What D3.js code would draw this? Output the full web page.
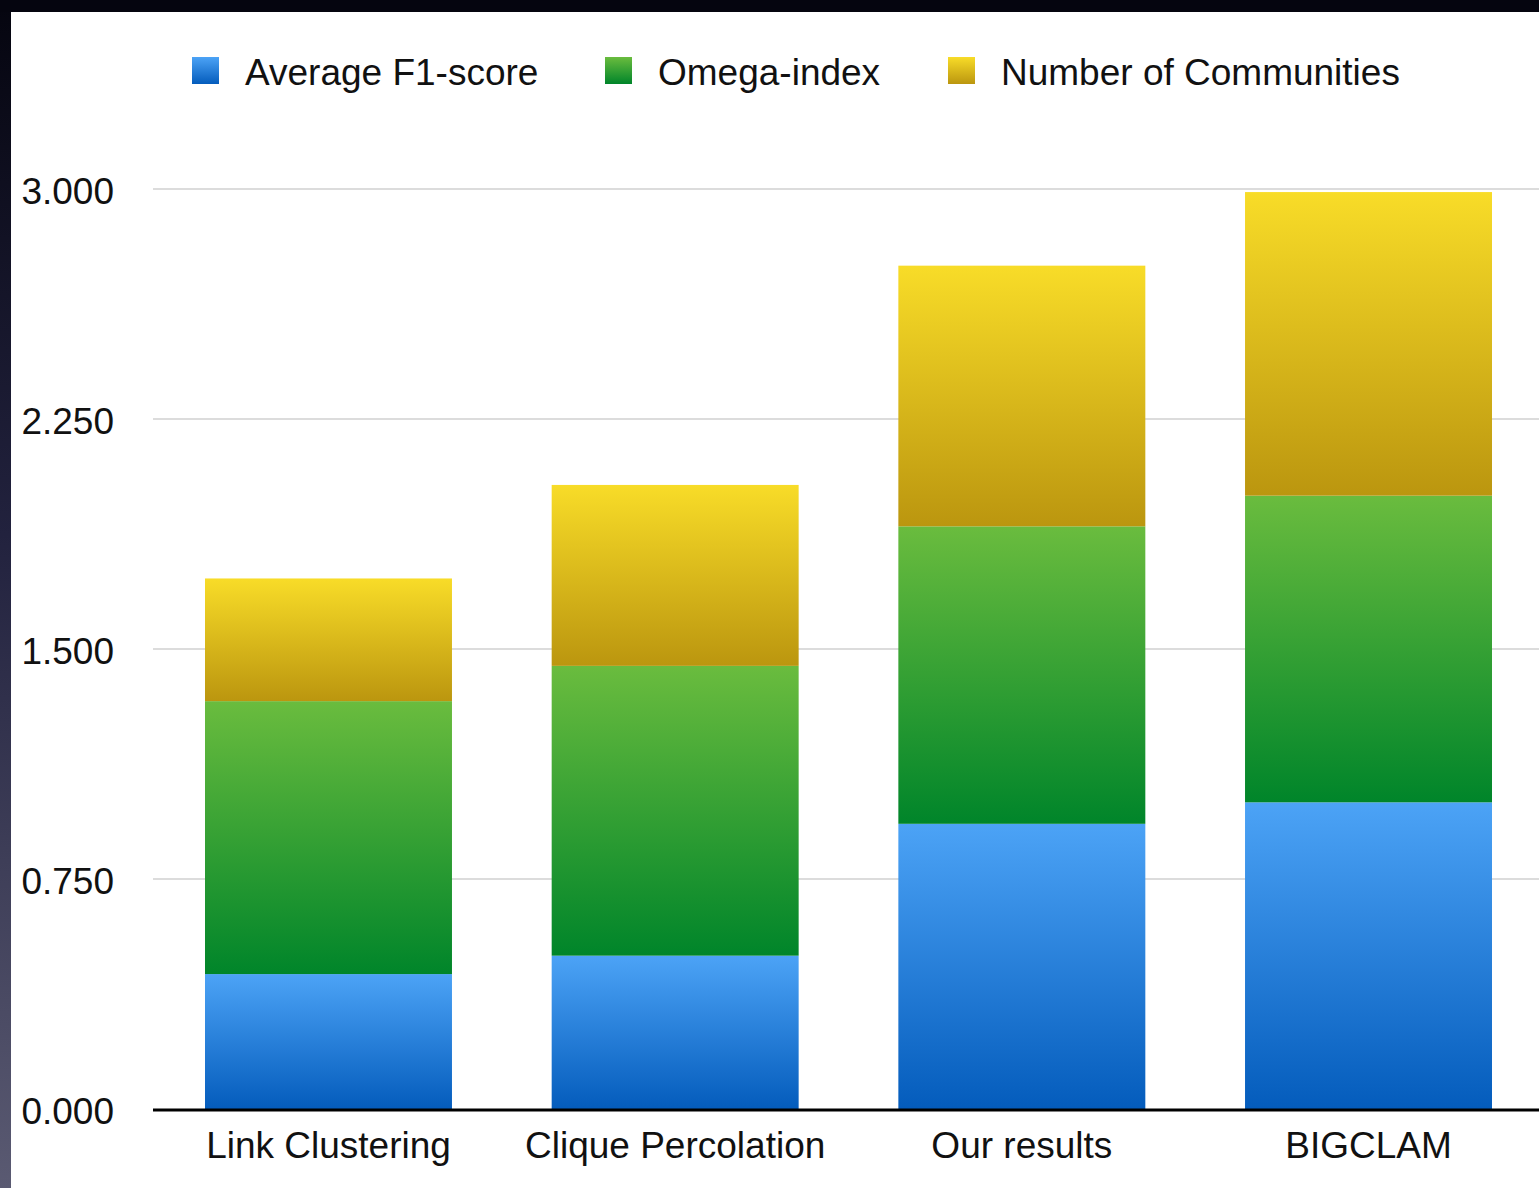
<!DOCTYPE html>
<html>
<head>
<meta charset="utf-8">
<script src="https://cdn.jsdelivr.net/npm/d3@7"></script>
<style>
  html, body { margin: 0; padding: 0; background: #05060f; }
  svg { display: block; }
  text { font-family: "Liberation Sans", Arial, Helvetica, sans-serif; fill: #111; }
</style>
</head>
<body>
<svg id="chart" width="1539" height="1188"></svg>
<script>
// Community detection comparison: stacked scores per method
const categories = ["Link Clustering", "Clique Percolation", "Our results", "BIGCLAM"];
const seriesNames = ["Average F1-score", "Omega-index", "Number of Communities"];
const f1Score = [0.44, 0.50, 0.93, 1.00];
const omegaIndex = [0.89, 0.945, 0.97, 1.00];
const numCommunities = [0.40, 0.59, 0.85, 0.99];
const tickValues = [0, 0.75, 1.5, 2.25, 3.0];
const tickLabels = ["0.000", "0.750", "1.500", "2.250", "3.000"];

// top / bottom gradient stops per series
const seriesColors = [
  ["#4ca3f6", "#045cbc"],
  ["#6abc3e", "#00852a"],
  ["#f8dc28", "#bb960f"]
];

const W = 1539, H = 1188;
const svg = d3.select("#chart");
const defs = svg.append("defs");

// dark frame with a vertical gradient on the left edge
const frameGrad = defs.append("linearGradient").attr("id", "frame")
  .attr("x1", 0).attr("y1", 0).attr("x2", 0).attr("y2", 1);
frameGrad.append("stop").attr("offset", 0).attr("stop-color", "#05050f");
frameGrad.append("stop").attr("offset", 0.45).attr("stop-color", "#22223e");
frameGrad.append("stop").attr("offset", 1).attr("stop-color", "#5a5a72");
svg.append("rect").attr("x", 0).attr("y", 0).attr("width", W).attr("height", H).attr("fill", "url(#frame)");
svg.append("rect").attr("x", 0).attr("y", 0).attr("width", W).attr("height", 12).attr("fill", "#05050f");
svg.append("rect").attr("x", 11).attr("y", 12).attr("width", W - 11).attr("height", H - 12).attr("fill", "#ffffff");

seriesColors.forEach((c, i) => {
  const g = defs.append("linearGradient").attr("id", "grad" + i)
    .attr("x1", 0).attr("y1", 0).attr("x2", 0).attr("y2", 1);
  g.append("stop").attr("offset", 0).attr("stop-color", c[0]);
  g.append("stop").attr("offset", 1).attr("stop-color", c[1]);
});

const x = d3.scaleBand().domain(categories).range([153, 1544]).paddingInner(0.2876).paddingOuter(0.15);
const y = d3.scaleLinear().domain([0, 3]).range([1109, 189]);

// gridlines
svg.append("g").selectAll("line").data(tickValues.filter(v => v > 0)).join("line")
  .attr("x1", 153).attr("x2", W)
  .attr("y1", d => y(d)).attr("y2", d => y(d))
  .attr("stroke", "#dcdcdc").attr("stroke-width", 2);

// stacked bars
const rows = categories.map((c, i) => ({
  cat: c,
  [seriesNames[0]]: f1Score[i],
  [seriesNames[1]]: omegaIndex[i],
  [seriesNames[2]]: numCommunities[i]
}));
const stacked = d3.stack().keys(seriesNames)(rows);

svg.append("g").selectAll("g").data(stacked).join("g")
  .attr("fill", (d, i) => `url(#grad${i})`)
  .selectAll("rect").data(d => d).join("rect")
  .attr("x", d => x(d.data.cat))
  .attr("width", x.bandwidth())
  .attr("y", d => y(d[1]))
  .attr("height", d => y(d[0]) - y(d[1]));

// y axis labels
const yAxis = d3.axisLeft(y).tickValues(tickValues)
  .tickFormat((d, i) => tickLabels[i]).tickSize(0).tickPadding(0);
const yg = svg.append("g").attr("transform", "translate(114,3)").call(yAxis);
yg.select(".domain").remove();
yg.selectAll("text").attr("font-size", 37).attr("fill", "#111")
  .attr("font-family", "'Liberation Sans', Arial, sans-serif");

// x axis baseline and category labels
const xAxis = d3.axisBottom(x).tickSize(0).tickPadding(23);
const xg = svg.append("g").attr("transform", `translate(0,${y(0)})`).call(xAxis);
xg.select(".domain").remove();
xg.selectAll("text").attr("font-size", 37).attr("fill", "#111")
  .attr("font-family", "'Liberation Sans', Arial, sans-serif");
svg.append("line").attr("x1", 153).attr("x2", W).attr("y1", y(0) + 1).attr("y2", y(0) + 1)
  .attr("stroke", "#000").attr("stroke-width", 3);

// legend
const legendX = [192, 605, 948];
const lg = svg.append("g").selectAll("g").data(seriesNames).join("g")
  .attr("transform", (d, i) => `translate(${legendX[i]},57)`);
lg.append("rect").attr("width", 27).attr("height", 27)
  .attr("fill", (d, i) => `url(#grad${i})`);
lg.append("text").attr("x", 53).attr("y", 28).attr("font-size", 37).text(d => d);
</script>
</body>
</html>
